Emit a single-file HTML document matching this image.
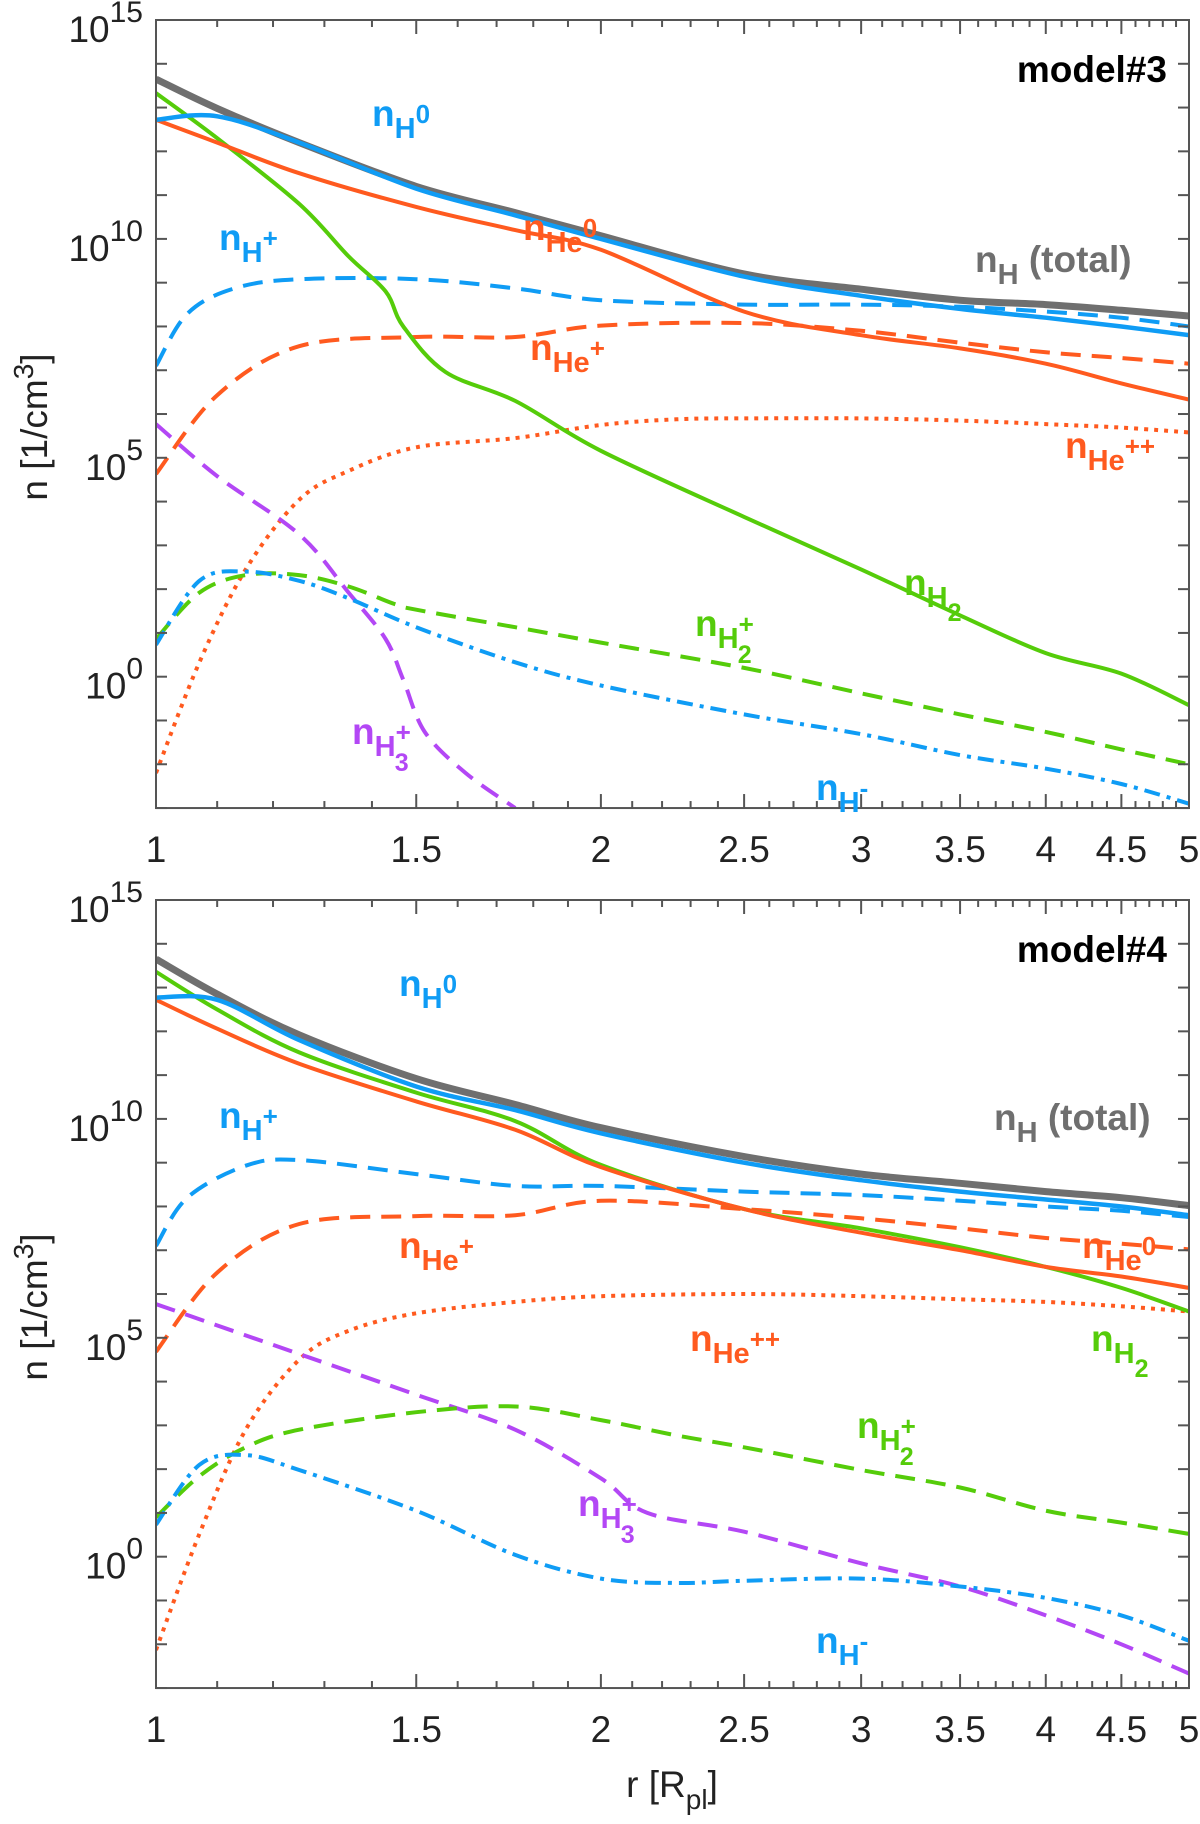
<!DOCTYPE html>
<html><head><meta charset="utf-8"><style>
html,body{margin:0;padding:0;background:#fff;}
svg{display:block;}
text{font-family:"Liberation Sans",sans-serif;}
.tk{font-size:37px;fill:#222;}
.lab{font-weight:bold;font-size:37px;}
</style></head><body>
<svg id="chart" width="1200" height="1824" viewBox="0 0 1200 1824" xmlns="http://www.w3.org/2000/svg"></svg>
<script>
// ---- data (log10 n [1/cm^3]) vs r [R_pl] ----
const rTicks = [1,1.5,2,2.5,3,3.5,4,4.5,5];
const rTickLabels = ["1","1.5","2","2.5","3","3.5","4","4.5","5"];
const yTickExps = [15,10,5,0];
// model 3
const m3_nH_r   = [1,1.1,1.25,1.5,1.75,2,2.5,3,3.5,4,4.5,5];
const m3_nH_v   = [13.65,12.98,12.2,11.2,10.6,10.07,9.2,8.85,8.6,8.5,8.37,8.24];
const m3_nH0_r  = [1,1.1,1.25,1.5,1.75,2,2.5,3,3.5,4,4.5,5];
const m3_nH0_v  = [12.72,12.8,12.2,11.15,10.54,10.0,9.14,8.7,8.4,8.2,8.0,7.8];
const m3_nHe0_r = [1,1.1,1.25,1.5,1.75,2,2.5,3,3.5,4,4.5,5];
const m3_nHe0_v = [12.72,12.2,11.5,10.73,10.2,9.75,8.34,7.8,7.5,7.15,6.7,6.33];
const m3_nH2_r  = [1,1.1,1.25,1.35,1.43,1.47,1.57,1.75,2,2.5,3,3.5,4,4.5,5];
const m3_nH2_v  = [13.33,12.3,10.8,9.6,8.8,8.0,6.96,6.3,5.16,3.65,2.45,1.4,0.54,0.07,-0.65];
const m3_nHp_r  = [1,1.05,1.13,1.25,1.5,1.75,2,2.5,3,3.5,4,4.5,5];
const m3_nHp_v  = [7.1,8.29,8.87,9.08,9.08,8.87,8.6,8.5,8.5,8.45,8.34,8.2,8.0];
const m3_nHep_r = [1,1.1,1.25,1.5,1.75,2,2.5,3,3.5,4,4.5,5];
const m3_nHep_v = [4.63,6.43,7.55,7.76,7.76,8.02,8.08,7.9,7.63,7.41,7.28,7.15];
const m3_nHepp_r= [1,1.07,1.15,1.25,1.35,1.5,1.75,2,2.25,2.5,3,3.5,4,4.5,5];
const m3_nHepp_v= [-2.2,0.33,2.45,4.04,4.7,5.24,5.45,5.75,5.88,5.9,5.9,5.85,5.77,5.69,5.58];
const m3_nH3p_r = [1,1.1,1.25,1.35,1.43,1.47,1.52,1.62,1.75];
const m3_nH3p_v = [5.77,4.58,3.25,1.92,0.86,-0.07,-1.26,-2.2,-3.0];
const m3_nHm_r  = [1,1.07,1.15,1.25,1.35,1.5,1.75,2,2.5,3,3.5,4,4.5,5];
const m3_nHm_v  = [0.73,2.19,2.4,2.19,1.79,1.13,0.33,-0.2,-0.86,-1.31,-1.79,-2.1,-2.45,-2.9];
const m3_nH2p_r = [1,1.07,1.15,1.25,1.35,1.45,1.5,1.75,2,2.5,3,3.5,4,4.5,5];
const m3_nH2p_v = [0.86,1.92,2.32,2.32,2.06,1.66,1.53,1.13,0.78,0.2,-0.38,-0.86,-1.26,-1.66,-2.0];
// model 4
const m4_nH_r   = [1,1.1,1.25,1.5,1.75,2,2.5,3,3.5,4,4.5,5];
const m4_nH_v   = [13.65,12.85,11.92,10.92,10.33,9.8,9.14,8.74,8.53,8.34,8.2,8.02];
const m4_nH0_r  = [1,1.1,1.25,1.5,1.75,2,2.5,3,3.5,4,4.5,5];
const m4_nH0_v  = [12.77,12.72,11.8,10.74,10.2,9.67,9.0,8.6,8.34,8.16,8.0,7.8];
const m4_nHe0_r = [1,1.1,1.25,1.5,1.75,2,2.5,3,3.5,4,4.5,5];
const m4_nHe0_v = [12.72,12.06,11.26,10.4,9.75,8.9,7.94,7.4,7.0,6.62,6.4,6.14];
const m4_nH2_r  = [1,1.1,1.25,1.5,1.75,2,2.5,3,3.5,4,4.5,5];
const m4_nH2_v  = [13.36,12.5,11.52,10.6,9.95,8.95,7.94,7.5,7.07,6.62,6.14,5.6];
const m4_nHp_r  = [1,1.05,1.15,1.25,1.5,1.75,2,2.5,3,3.5,4,4.5,5];
const m4_nHp_v  = [7.1,8.2,8.93,9.06,8.74,8.47,8.47,8.34,8.26,8.13,8.0,7.9,7.76];
const m4_nHep_r = [1,1.1,1.25,1.5,1.75,2,2.5,3,3.5,4,4.5,5];
const m4_nHep_v = [4.68,6.49,7.6,7.78,7.8,8.13,7.94,7.73,7.5,7.28,7.15,7.02];
const m4_nHepp_r= [1,1.07,1.15,1.25,1.35,1.5,1.75,2,2.5,3,3.5,4,4.5,5];
const m4_nHepp_v= [-2.13,0.52,2.9,4.5,5.16,5.56,5.82,5.95,6.0,5.95,5.88,5.82,5.72,5.6];
const m4_nH3p_r = [1,1.25,1.5,1.75,2,2.15,2.5,3,3.5,4,4.5,5];
const m4_nH3p_v = [5.77,4.63,3.7,2.9,1.79,1.0,0.57,-0.15,-0.68,-1.34,-2.0,-2.67];
const m4_nH2p_r = [1,1.07,1.15,1.25,1.5,1.75,2,2.25,2.5,3,3.5,4,4.5,5];
const m4_nH2p_v = [0.9,1.84,2.5,2.9,3.3,3.43,3.12,2.77,2.5,1.98,1.58,1.05,0.78,0.52];
const m4_nHm_r  = [1,1.07,1.15,1.25,1.5,1.75,2,2.25,2.5,3,3.5,4,4.5,5];
const m4_nHm_v  = [0.73,2.1,2.32,1.98,1.05,0.04,-0.5,-0.6,-0.55,-0.5,-0.68,-0.94,-1.34,-1.92];

const NS="http://www.w3.org/2000/svg";
const svg=document.getElementById('chart');
const X0=156,X1=1189,DEC=43.78;
const xs=r=>X0+(X1-X0)*Math.log(r)/Math.log(5);
function mk(tag,attrs,parent){const e=document.createElementNS(NS,tag);for(const k in attrs)e.setAttribute(k,attrs[k]);(parent||svg).appendChild(e);return e;}
const C={blue:'#0f9cf5',orange:'#ff5a1f',green:'#55cc0a',purple:'#b347f5',gray:'#6f6f6f'};

function smoothPath(pts){
  let d='M'+pts[0][0].toFixed(1)+','+pts[0][1].toFixed(1);
  for(let i=0;i<pts.length-1;i++){
    const p0=pts[Math.max(0,i-1)],p1=pts[i],p2=pts[i+1],p3=pts[Math.min(pts.length-1,i+2)];
    const c1=[p1[0]+(p2[0]-p0[0])/6,p1[1]+(p2[1]-p0[1])/6];
    const c2=[p2[0]-(p3[0]-p1[0])/6,p2[1]-(p3[1]-p1[1])/6];
    d+='C'+c1[0].toFixed(1)+','+c1[1].toFixed(1)+' '+c2[0].toFixed(1)+','+c2[1].toFixed(1)+' '+p2[0].toFixed(1)+','+p2[1].toFixed(1);
  }
  return d;
}

function panel(top,name,model,series,labels){
  const bot=top+18*DEC;
  const ys=v=>top+(15-v)*DEC;
  const g=mk('g',{});
  
  
  const clipId=name+'-clip';
  const cp=mk('clipPath',{id:clipId},g);
  mk('rect',{x:X0,y:top,width:X1-X0,height:bot-top},cp);
  const lg=mk('g',{'clip-path':'url(#'+clipId+')'},g);
  series.forEach(s=>{
    const pts=s.r.map((r,i)=>[xs(r),ys(s.v[i])]);
    const p=mk('path',{d:smoothPath(pts),fill:'none',stroke:s.c,'stroke-width':s.w||4,'stroke-dasharray':s.dash||'none','stroke-linejoin':'round'},lg);
    
    
  });
  const box=mk('rect',{x:X0,y:top,width:X1-X0,height:bot-top,fill:'none',stroke:'#555','stroke-width':2},g);
  
  
  for(let e=-3;e<=15;e++){
    const y=ys(e);const L=11;
    mk('line',{x1:X0,y1:y,x2:X0+L,y2:y,stroke:'#555','stroke-width':2},g);
    mk('line',{x1:X1,y1:y,x2:X1-L,y2:y,stroke:'#555','stroke-width':2},g);
  }
  yTickExps.forEach(e=>{
    const t=mk('text',{x:143,y:ys(e)+22,'text-anchor':'end',class:'tk'},g);
    
    
    const a=mk('tspan',{},t);a.textContent='10';
    const b=mk('tspan',{dy:-20,'font-size':'30'},t);b.textContent=String(e);
  });
  for(let k=10;k<=50;k++){
    const r=k/10,x=xs(r),maj=(k%5===0);const L=maj?14:7;
    mk('line',{x1:x,y1:bot,x2:x,y2:bot-L,stroke:'#555','stroke-width':2},g);
    mk('line',{x1:x,y1:top,x2:x,y2:top+L,stroke:'#555','stroke-width':2},g);
  }
  rTicks.forEach((r,i)=>{
    const t=mk('text',{x:xs(r),y:bot+54,'text-anchor':'middle',class:'tk'},g);
    
    
    t.textContent=rTickLabels[i];
  });
  const yt=mk('text',{x:0,y:0,transform:'translate(47,'+(top+407)+') rotate(-90)','text-anchor':'middle',class:'tk'},g);
  
  
  const y1=mk('tspan',{},yt);y1.textContent='n [1/cm';
  const y2=mk('tspan',{dy:-14,'font-size':'28'},yt);y2.textContent='3';
  const y3=mk('tspan',{dy:14},yt);y3.textContent=']';
  const ml=mk('text',{x:1167,y:top+62,'text-anchor':'end',class:'lab',fill:'#000','font-size':'35'},g);
  
  
  ml.textContent=model;
  labels.forEach(l=>{
    const t=mk('text',{x:l.x,y:l.y,class:'lab',fill:l.c},g);
    
    
    const a=mk('tspan',{},t);a.textContent='n';
    const b=mk('tspan',{dy:12,'font-size':'29'},t);b.textContent=l.sub;
    if(l.sup){const c=mk('tspan',{dy:-15,'font-size':'26'},t);c.textContent=l.sup;}
    if(l.sub2){
      if(l.sup){const c=mk('tspan',{dx:-16,dy:30,'font-size':'25'},t);c.textContent=l.sub2;}
      else{const c=mk('tspan',{dy:14,'font-size':'25'},t);c.textContent=l.sub2;}
    }
    if(l.tail){const c=mk('tspan',{dy:-12,'font-size':'37'},t);c.textContent=l.tail;}
  });
}
const DASH='20 11',DOT='4 6',DD='16 7 4 7';
panel(20,'model3-panel','model#3',[
 {n:'nHepp-line',r:m3_nHepp_r,v:m3_nHepp_v,c:C.orange,dash:DOT},
 {n:'nH3p-line',r:m3_nH3p_r,v:m3_nH3p_v,c:C.purple,dash:DASH},
 {n:'nH2p-line',r:m3_nH2p_r,v:m3_nH2p_v,c:C.green,dash:DASH},
 {n:'nHm-line',r:m3_nHm_r,v:m3_nHm_v,c:C.blue,dash:DD},
 {n:'nHep-line',r:m3_nHep_r,v:m3_nHep_v,c:C.orange,dash:DASH},
 {n:'nHp-line',r:m3_nHp_r,v:m3_nHp_v,c:C.blue,dash:DASH},
 {n:'nH2-line',r:m3_nH2_r,v:m3_nH2_v,c:C.green},
 {n:'nHe0-line',r:m3_nHe0_r,v:m3_nHe0_v,c:C.orange},
 {n:'nH-total-line',r:m3_nH_r,v:m3_nH_v,c:C.gray,w:7},
 {n:'nH0-line',r:m3_nH0_r,v:m3_nH0_v,c:C.blue,w:4.5},
],[
 {n:'label-nH0',x:372,y:126,c:C.blue,sub:'H',sup:'0'},
 {n:'label-nHp',x:219,y:250,c:C.blue,sub:'H',sup:'+'},
 {n:'label-nHe0',x:523,y:240,c:C.orange,sub:'He',sup:'0'},
 {n:'label-nH-total',x:975,y:272,c:C.gray,sub:'H',tail:' (total)'},
 {n:'label-nHep',x:530,y:360,c:C.orange,sub:'He',sup:'+'},
 {n:'label-nHepp',x:1065,y:458,c:C.orange,sub:'He',sup:'++'},
 {n:'label-nH2',x:904,y:595,c:C.green,sub:'H',sub2:'2'},
 {n:'label-nH2p',x:695,y:636,c:C.green,sub:'H',sup:'+',sub2:'2'},
 {n:'label-nH3p',x:352,y:744,c:C.purple,sub:'H',sup:'+',sub2:'3'},
 {n:'label-nHm',x:816,y:800,c:C.blue,sub:'H',sup:'-'},
]);
panel(900,'model4-panel','model#4',[
 {n:'nHepp-line',r:m4_nHepp_r,v:m4_nHepp_v,c:C.orange,dash:DOT},
 {n:'nH3p-line',r:m4_nH3p_r,v:m4_nH3p_v,c:C.purple,dash:DASH},
 {n:'nH2p-line',r:m4_nH2p_r,v:m4_nH2p_v,c:C.green,dash:DASH},
 {n:'nHm-line',r:m4_nHm_r,v:m4_nHm_v,c:C.blue,dash:DD},
 {n:'nHep-line',r:m4_nHep_r,v:m4_nHep_v,c:C.orange,dash:DASH},
 {n:'nHp-line',r:m4_nHp_r,v:m4_nHp_v,c:C.blue,dash:DASH},
 {n:'nH2-line',r:m4_nH2_r,v:m4_nH2_v,c:C.green},
 {n:'nHe0-line',r:m4_nHe0_r,v:m4_nHe0_v,c:C.orange},
 {n:'nH-total-line',r:m4_nH_r,v:m4_nH_v,c:C.gray,w:7},
 {n:'nH0-line',r:m4_nH0_r,v:m4_nH0_v,c:C.blue,w:4.5},
],[
 {n:'label-nH0',x:399,y:996,c:C.blue,sub:'H',sup:'0'},
 {n:'label-nHp',x:219,y:1128,c:C.blue,sub:'H',sup:'+'},
 {n:'label-nH-total',x:994,y:1130,c:C.gray,sub:'H',tail:' (total)'},
 {n:'label-nHep',x:399,y:1258,c:C.orange,sub:'He',sup:'+'},
 {n:'label-nHe0',x:1082,y:1258,c:C.orange,sub:'He',sup:'0'},
 {n:'label-nHepp',x:690,y:1351,c:C.orange,sub:'He',sup:'++'},
 {n:'label-nH2',x:1091,y:1351,c:C.green,sub:'H',sub2:'2'},
 {n:'label-nH2p',x:857,y:1438,c:C.green,sub:'H',sup:'+',sub2:'2'},
 {n:'label-nH3p',x:578,y:1516,c:C.purple,sub:'H',sup:'+',sub2:'3'},
 {n:'label-nHm',x:816,y:1653,c:C.blue,sub:'H',sup:'-'},
]);
const xt=mk('text',{x:672,y:1797,'text-anchor':'middle',class:'tk'});


const xa=mk('tspan',{},xt);xa.textContent='r [R';
const xb=mk('tspan',{dy:12,'font-size':'28'},xt);xb.textContent='pl';
const xc=mk('tspan',{dy:-12},xt);xc.textContent=']';
</script>
</body></html>
